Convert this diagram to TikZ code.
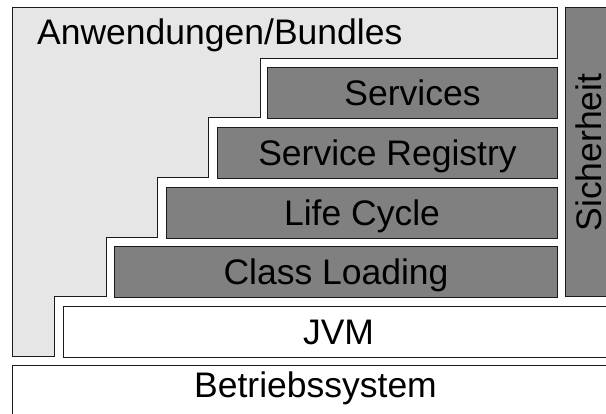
\documentclass[tikz,border=0pt]{standalone}
\usepackage{fontspec}
\setmainfont{Liberation Sans}
\definecolor{lightfill}{HTML}{E6E6E6}
\definecolor{darkfill}{HTML}{808080}
\definecolor{edge}{HTML}{1A1A1A}
\begin{document}
\begin{tikzpicture}[x=1pt,y=-1pt,
  lbl/.style={font=\fontsize{35.5}{40}\selectfont, text=black},
  layer/.style={lbl, draw=edge, line width=1pt, anchor=north west, inner xsep=0pt, inner ysep=0pt,
     minimum height=51pt, text height=24.4pt, text depth=0pt},
  darklayer/.style={layer, fill=darkfill},
  whitelayer/.style={layer, fill=white}]
\useasboundingbox (0,0) rectangle (606,414);
% Anwendungen/Bundles area
\draw[draw=edge, line width=1pt, fill=lightfill]
  (12,8) -- (557,8) -- (557,59) -- (260,59) -- (260,118) -- (208,118) -- (208,178)
  -- (157,178) -- (157,238) -- (106,238) -- (106,297) -- (54,297) -- (54,357)
  -- (12,357) -- cycle;
\node[lbl, anchor=base west, inner sep=0pt] (apps) at (37,45) {Anwendungen/Bundles};
% layers
\node[darklayer, minimum width=290pt] (services) at (267,67) {Services};
\node[darklayer, minimum width=340pt] (registry) at (217,127) {Service Registry};
\node[darklayer, minimum width=391pt] (lifecycle) at (166,187) {Life Cycle};
\node[darklayer, minimum width=443pt] (classload) at (114,246) {Class Loading};
\node[whitelayer, minimum width=550pt] (jvm) at (63,306) {JVM};
\node[lbl, draw=edge, line width=1pt, fill=white, anchor=north west, inner xsep=0pt, inner ysep=0pt,
  minimum width=606pt, text height=32pt, text depth=30pt] (os) at (12,365) {Betriebssystem};
% Sicherheit
\draw[draw=edge, line width=1pt, fill=darkfill] (565,8) rectangle (620,297);
\node[lbl, rotate=90, inner sep=0pt, text height=24.4pt, text depth=0pt] (security) at (589.5,152.5) {Sicherheit};
\end{tikzpicture}
\end{document}
